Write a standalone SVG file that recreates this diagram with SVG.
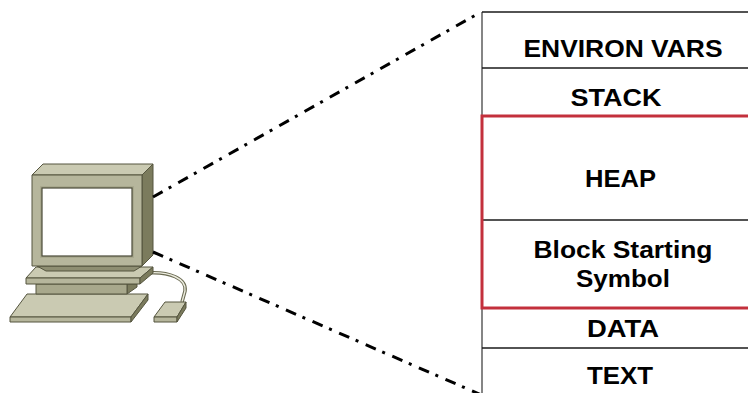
<svg xmlns="http://www.w3.org/2000/svg" width="748" height="393" viewBox="0 0 748 393">
  <style>
    .lbl { font-family: "Liberation Sans", Arial, sans-serif; font-weight: bold; font-size: 24px; fill: #000; text-anchor: middle; }
    .div { stroke: #1a1a1a; stroke-width: 1.5; fill: none; }
    .edge { stroke: #000; stroke-width: 3; fill: none; stroke-dasharray: 11 7 3 8; }
    .ol { stroke: #55553f; stroke-width: 1; stroke-linejoin: round; }
    .top { fill: #cacab2; }
    .front { fill: #b6b69c; }
    .side { fill: #7b7b5d; }
    .dark { fill: #8e8e72; }
  </style>
  <rect width="748" height="393" fill="#fff"/>

  <!-- desktop computer -->
  <g id="computer">
    <!-- mouse cable -->
    <path d="M146,273 C170,271 187,279 185,291 L182,302" fill="none" stroke="#6a6a52" stroke-width="3.5"/>
    <path d="M146,273 C170,271 187,279 185,291 L182,302" fill="none" stroke="#ececdf" stroke-width="1.4"/>
    <!-- keyboard -->
    <polygon class="top ol" points="10,317 27,294 148,294 131,317"/>
    <polygon class="front ol" points="10,317 131,317 131,322 10,322"/>
    <polygon class="side ol" points="131,317 148,294 148,300 131,322"/>
    <!-- pedestal -->
    <polygon class="side ol" points="127,284 137,284 137,287 127,294"/>
    <rect class="ol" x="36" y="284" width="91" height="10" fill="#a8a88c"/>
    <!-- stand plate -->
    <polygon class="top ol" points="26,278 36,267 153,267 140,278"/>
    <polygon class="front ol" points="26,278 140,278 140,284 26,284"/>
    <polygon class="side ol" points="140,278 153,267 153,273 140,284"/>
    <!-- monitor -->
    <polygon class="dark ol" points="37,266 142,266 134,271 46,271"/>
    <polygon class="top ol" points="32,175 43,164 153,164 142,175"/>
    <polygon class="side ol" points="142,175 153,164 153,255 142,266"/>
    <rect class="front ol" x="32" y="175" width="110" height="91"/>
    <rect x="40" y="186" width="94" height="72" fill="#a9a98e"/>
    <rect x="42" y="188" width="90" height="68" fill="#fff" stroke="#4a4a38" stroke-width="1.2"/>
    <!-- mouse -->
    <polygon class="top ol" points="154,317 165,302 186,302 177,317"/>
    <polygon class="front ol" points="154,317 177,317 177,322 154,322"/>
    <polygon class="side ol" points="177,317 186,302 186,308 177,322"/>
  </g>

  <!-- projection lines from the monitor to the memory layout -->
  <g id="connectors">
    <line class="edge" x1="153" y1="197" x2="481" y2="12"/>
    <line class="edge" x1="153" y1="252" x2="486" y2="397"/>
  </g>

  <!-- memory layout column -->
  <g id="memory">
    <line x1="482" y1="12" x2="482" y2="393" stroke="#858585" stroke-width="2"/>
    <line class="div" x1="482" y1="12" x2="760" y2="12"/>
    <g id="environ">
      <line class="div" x1="482" y1="68" x2="760" y2="68"/>
      <text class="lbl" x="623" y="57" textLength="199" lengthAdjust="spacingAndGlyphs">ENVIRON VARS</text>
    </g>
    <g id="stack">
      <text class="lbl" x="616" y="106" textLength="91" lengthAdjust="spacingAndGlyphs">STACK</text>
    </g>
    <g id="heap">
      <line class="div" x1="482" y1="220" x2="760" y2="220"/>
      <text class="lbl" x="620.5" y="187" textLength="71" lengthAdjust="spacingAndGlyphs">HEAP</text>
    </g>
    <g id="bss">
      <text class="lbl" x="623" y="258" textLength="179" lengthAdjust="spacingAndGlyphs">Block Starting</text>
      <text class="lbl" x="623" y="287" textLength="94" lengthAdjust="spacingAndGlyphs">Symbol</text>
    </g>
    <rect x="482" y="116" width="300" height="192" fill="none" stroke="#c3303c" stroke-width="3"/>
    <g id="data">
      <line class="div" x1="482" y1="348" x2="760" y2="348"/>
      <text class="lbl" x="623" y="337" textLength="72" lengthAdjust="spacingAndGlyphs">DATA</text>
    </g>
    <g id="text-seg">
      <text class="lbl" x="620" y="384" textLength="66" lengthAdjust="spacingAndGlyphs">TEXT</text>
    </g>
  </g>
</svg>
